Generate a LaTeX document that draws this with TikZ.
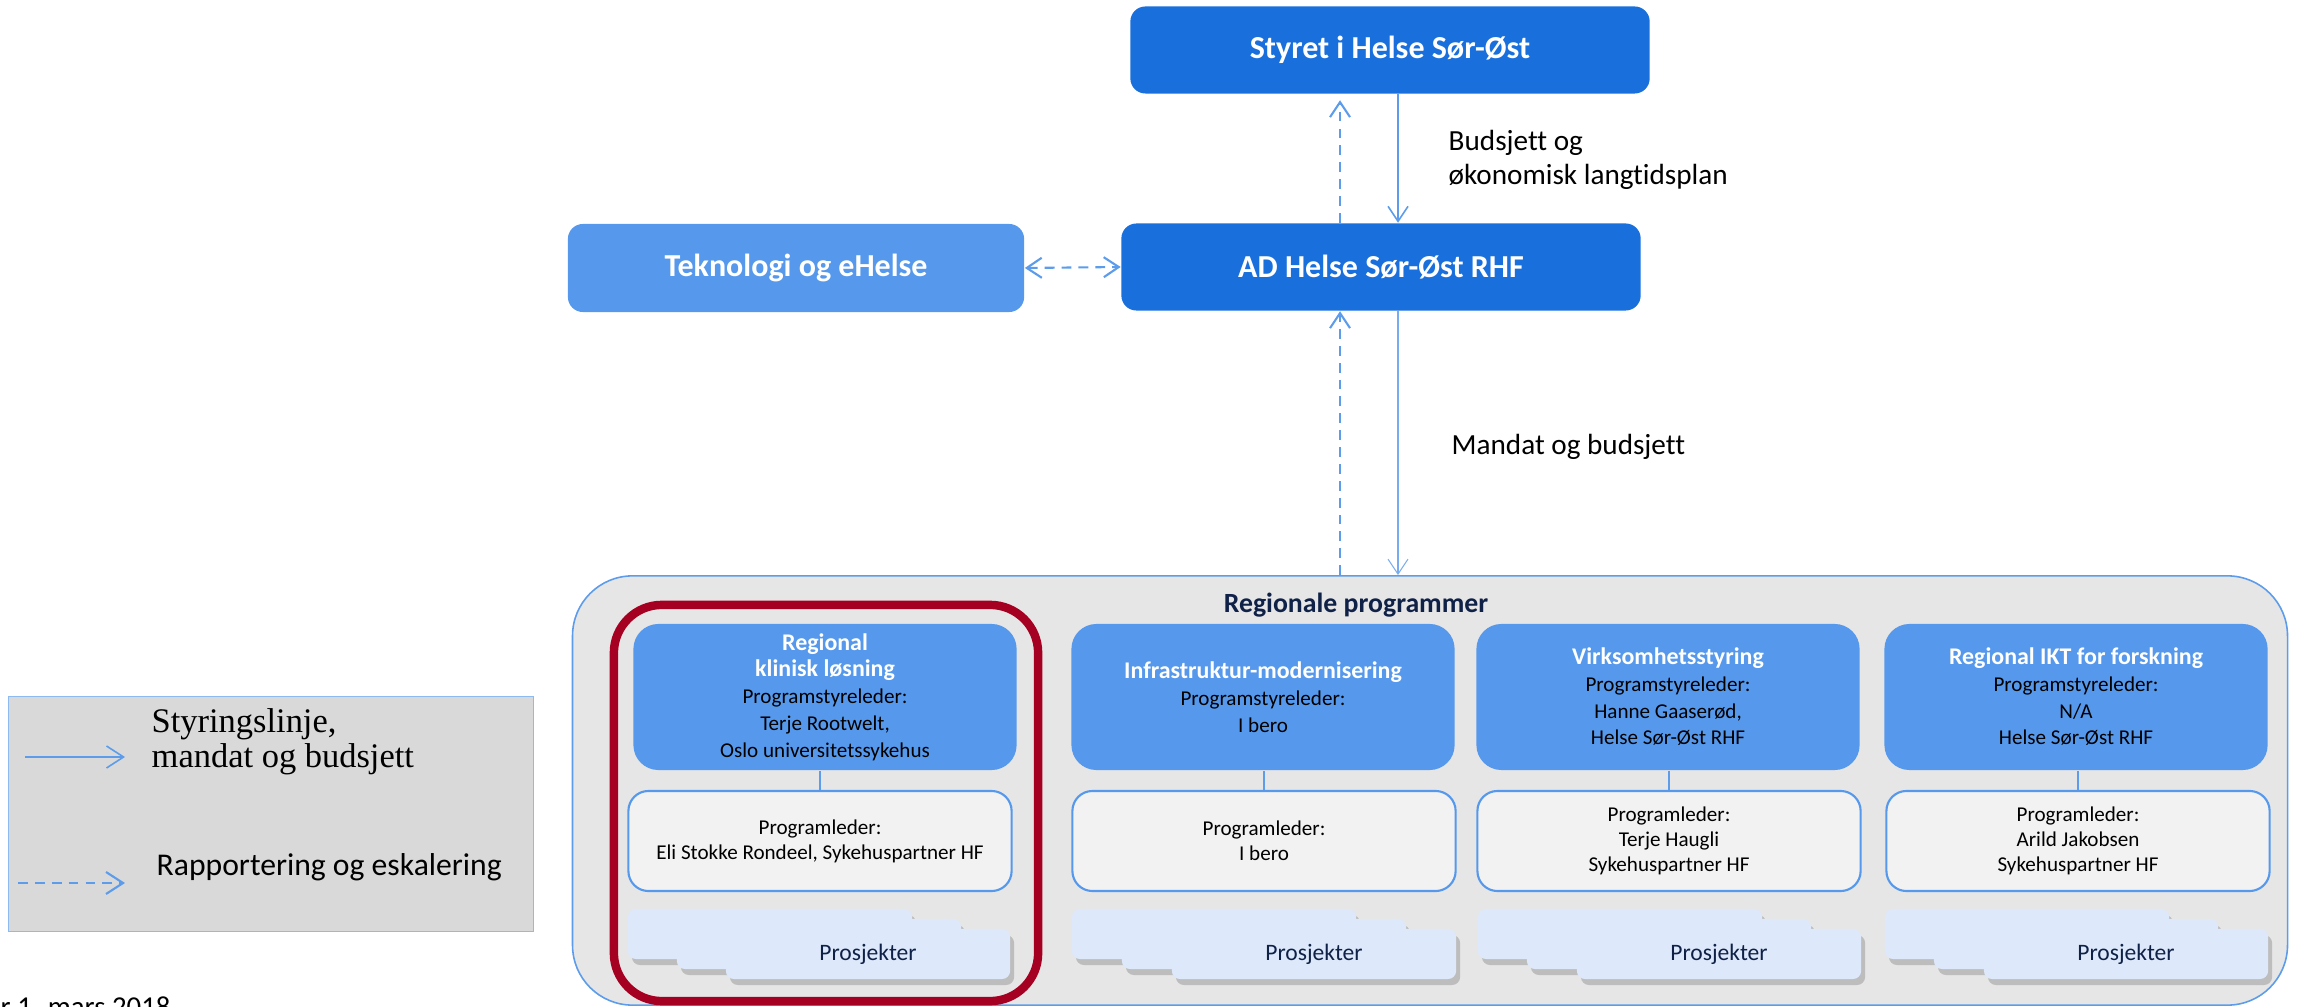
\documentclass[tikz,border=0pt]{standalone}
\usepackage{fontspec}
\setmainfont{Carlito}[Ligatures=NoCommon]
\newfontfamily\legendfont{Liberation Serif}
\usetikzlibrary{arrows.meta, shadows}
\definecolor{darkblue}{RGB}{25,112,220}
\definecolor{midblue}{RGB}{86,153,236}
\definecolor{lineblue}{RGB}{92,156,234}
\definecolor{thinblue}{RGB}{120,172,240}
\definecolor{projblue}{RGB}{221,233,250}
\definecolor{navy}{RGB}{16,33,72}
\definecolor{boxred}{RGB}{165,0,33}
\definecolor{panelgrey}{RGB}{230,230,230}
\definecolor{legendgrey}{RGB}{217,217,217}
\definecolor{leadgrey}{RGB}{242,242,242}
\newcommand{\progtitle}[1]{{\fontsize{6.8}{7.6}\selectfont\bfseries\color{white}#1}}

\begin{document}
\begin{tikzpicture}[x=0.01cm, y=-0.01cm,
  >={Straight Barb[length=1.5mm,width=2mm]},
  topbox/.style={fill=darkblue, rounded corners=0.15cm, text=white, inner sep=0pt, minimum width=5.19cm, minimum height=0.87cm, font=\fontsize{9.1}{11}\selectfont\bfseries},
  prog/.style={fill=midblue, rounded corners=0.25cm, inner sep=0pt, minimum width=3.83cm, minimum height=1.46cm, align=center, font=\fontsize{6}{7.6}\selectfont},
  lead/.style={fill=leadgrey, draw=midblue, line width=0.6pt, rounded corners=0.2cm, inner sep=0pt, minimum width=3.83cm, minimum height=1cm, align=center, font=\fontsize{6}{7.1}\selectfont},
  proj/.style={fill=projblue, rounded corners=0.08cm, inner sep=0pt, minimum width=2.84cm, minimum height=0.5cm, text=navy, font=\fontsize{6.7}{8}\selectfont, drop shadow={shadow xshift=0.04cm, shadow yshift=-0.06cm, opacity=0.4}},
  ctrl/.style={draw=lineblue, line width=0.4pt, ->},
  report/.style={draw=lineblue, line width=0.6pt, dash pattern=on 2.8pt off 2pt, ->},
  lbl/.style={font=\fontsize{8.3}{9.7}\selectfont, align=left, anchor=west, inner sep=0pt}
]
\useasboundingbox (0,0) rectangle (2298,1007);

% top of the hierarchy
\node[topbox] (styret) at (1390,50) {Styret i Helse Sør-Øst};
\node[topbox] (ad) at (1381,267) {AD Helse Sør-Øst RHF};
\node[topbox, fill=midblue, minimum width=4.56cm, minimum height=0.88cm] (tek) at (796,268) {Teknologi og eHelse};

% programme panel
\node[fill=panelgrey, draw=lineblue, line width=0.45pt, rounded corners=0.6cm, minimum width=17.14cm, minimum height=4.29cm, inner sep=0pt] (progs) at (1430,790.5) {};
\node[font=\fontsize{7.9}{9}\selectfont\bfseries, text=navy] (regtitle) at (1356,605) {Regionale programmer};
\node[draw=boxred, line width=2.4pt, rounded corners=0.48cm, minimum width=4.24cm, minimum height=3.96cm, inner sep=0pt] (focus) at (826,803) {};

\node[prog] (prog1) at (825,697) {\progtitle{Regional}\\\progtitle{klinisk løsning}\\Programstyreleder:\\Terje Rootwelt,\\Oslo universitetssykehus};
\node[lead] (lead1) at (820,841) {Programleder:\\Eli Stokke Rondeel, Sykehuspartner HF};
\draw[lineblue, line width=0.4pt] (lead1.north) -- (lead1.north |- prog1.south);
\node[proj] (proj1a) at (770,934) {};
\node[proj] (proj1b) at (819,944) {};
\node[proj] (proj1c) at (868,954) {Prosjekter};

\node[prog] (prog2) at (1263,697) {\progtitle{Infrastruktur-modernisering}\\Programstyreleder:\\I bero};
\node[lead] (lead2) at (1264,841) {Programleder:\\I bero};
\draw[lineblue, line width=0.4pt] (lead2.north) -- (lead2.north |- prog2.south);
\node[proj] (proj2a) at (1214,934) {};
\node[proj] (proj2b) at (1264,944) {};
\node[proj] (proj2c) at (1314,954) {Prosjekter};

\node[prog] (prog3) at (1668,697) {\progtitle{Virksomhetsstyring}\\Programstyreleder:\\Hanne Gaaserød,\\Helse Sør-Øst RHF};
\node[lead] (lead3) at (1669,841) {Programleder:\\Terje Haugli\\Sykehuspartner HF};
\draw[lineblue, line width=0.4pt] (lead3.north) -- (lead3.north |- prog3.south);
\node[proj] (proj3a) at (1620,934) {};
\node[proj] (proj3b) at (1669,944) {};
\node[proj] (proj3c) at (1719,954) {Prosjekter};

\node[prog] (prog4) at (2076,697) {\progtitle{Regional IKT for forskning}\\Programstyreleder:\\N/A\\Helse Sør-Øst RHF};
\node[lead] (lead4) at (2078,841) {Programleder:\\Arild Jakobsen\\Sykehuspartner HF};
\draw[lineblue, line width=0.4pt] (lead4.north) -- (lead4.north |- prog4.south);
\node[proj] (proj4a) at (2027,934) {};
\node[proj] (proj4b) at (2076,944) {};
\node[proj] (proj4c) at (2126,954) {Prosjekter};

% lines between the levels
\coordinate (dash) at (1340,0);
\coordinate (solid) at (1398,0);
\draw[ctrl, line width=0.45pt] (styret.south -| solid) -- (ad.north -| solid);
\draw[report, shorten >=0.06cm] (ad.north -| dash) -- (styret.south -| dash);
\draw[ctrl, draw=thinblue, line width=0.3pt] (ad.south -| solid) -- (progs.north -| solid);
\draw[report] (progs.north -| dash) -- (ad.south -| dash);
\draw[report, <->] (tek.east) -- (ad.west);
\node[lbl] (budget) at (1448,160) {Budsjett og\\økonomisk langtidsplan};
\node[lbl] (mandate) at (1451,447) {Mandat og budsjett};

% legend
\node[fill=legendgrey, draw=lineblue!70, line width=0.3pt, minimum width=5.24cm, minimum height=2.34cm, inner sep=0pt] (legend) at (271,814) {};
\coordinate (ctrlA) at (25,757);
\coordinate (ctrlB) at (125,757);
\coordinate (repA) at (18,883);
\coordinate (repB) at (125,883);
\draw[ctrl, line width=0.45pt, >={Straight Barb[length=1.7mm,width=2.2mm]}] (ctrlA) -- (ctrlB);
\draw[report, >={Straight Barb[length=1.7mm,width=2.2mm]}] (repA) -- (repB);
\node[lbl, font=\legendfont\fontsize{9.8}{10}\selectfont] (ctrltext) at (151,742) {Styringslinje,\\mandat og budsjett};
\node[lbl, font=\fontsize{9}{11}\selectfont] (reptext) at (156,867) {Rapportering og eskalering};

\node[anchor=base west, inner sep=0pt, font=\fontsize{8.2}{10}\selectfont] (date) at (0,1016) {r 1. mars 2018};
\end{tikzpicture}
\end{document}
